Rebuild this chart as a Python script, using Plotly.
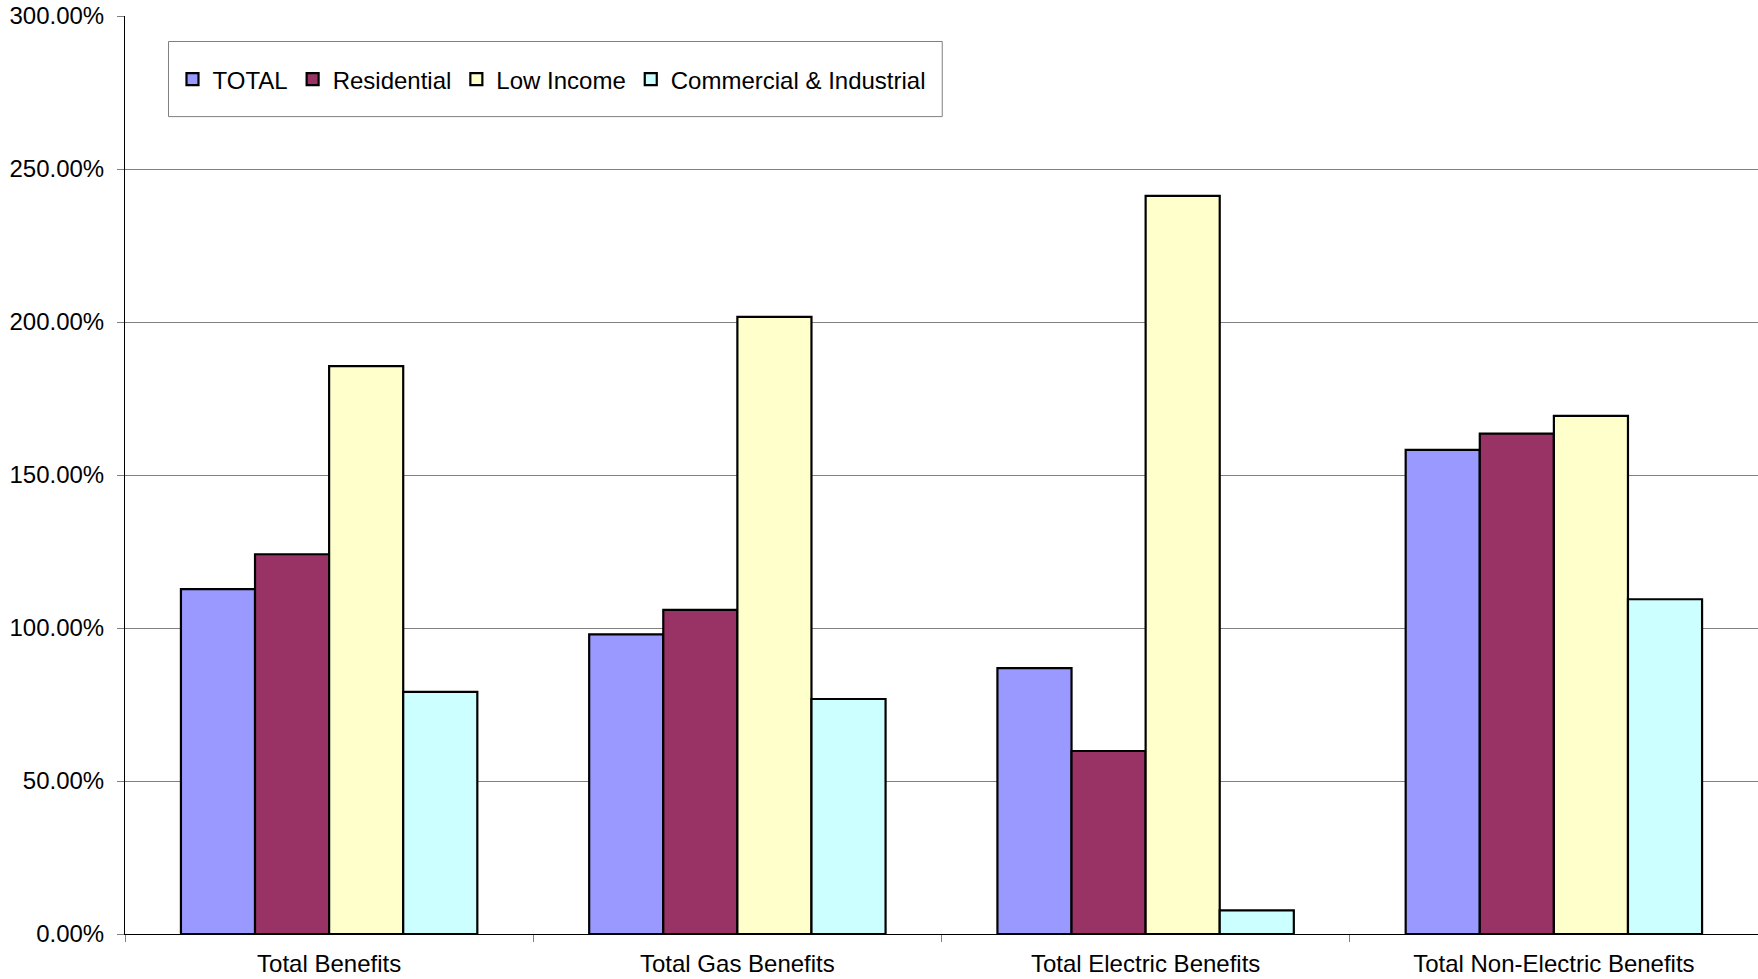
import plotly.graph_objects as go

# Benefit categories along the x axis
categories = ["Total Benefits", "Total Gas Benefits", "Total Electric Benefits", "Total Non-Electric Benefits"]

# Ratio values (percent) per customer segment
total = [112.7, 97.9, 86.9, 158.2]
residential = [124.1, 105.9, 59.8, 163.5]
low_income = [185.6, 201.7, 241.2, 169.3]
commercial_industrial = [79.1, 76.8, 7.7, 109.4]

series_names = ["TOTAL", "Residential", "Low Income", "Commercial & Industrial"]
series_values = [total, residential, low_income, commercial_industrial]
series_colors = ["#9999FF", "#993366", "#FFFFCC", "#CCFFFF"]

y_ticks = [0, 50, 100, 150, 200, 250, 300]
y_tick_labels = ["0.00%", "50.00%", "100.00%", "150.00%", "200.00%", "250.00%", "300.00%"]

FONT = "Arial, Liberation Sans, sans-serif"

fig = go.Figure()
for name, vals, color in zip(series_names, series_values, series_colors):
    fig.add_trace(go.Bar(
        x=categories, y=vals, name=name,
        marker=dict(color=color, line=dict(color="black", width=2.2)),
    ))

W, H = 1758, 979
ml, mr, mt, mb = 124.5, 0, 16, 45
pw = W - ml - mr
ph = H - mt - mb

def px_x(x):
    return (x - ml) / pw

def px_y(y):
    return (H - mb - y) / ph

fig.update_layout(
    width=W, height=H,
    margin=dict(l=ml, r=mr, t=mt, b=mb, pad=0),
    paper_bgcolor="white", plot_bgcolor="white",
    font=dict(family=FONT, size=24, color="black"),
    barmode="group", bargap=0.274, bargroupgap=0,
    showlegend=True,
    legend=dict(
        orientation="h",
        x=px_x(172), xanchor="left",
        y=px_y(79.6), yanchor="middle",
        bgcolor="rgba(0,0,0,0)", borderwidth=0,
        font=dict(family=FONT, size=24, color="black"),
        traceorder="normal",
    ),
    shapes=[dict(
        type="rect", xref="paper", yref="paper",
        x0=px_x(168), x1=px_x(942), y0=px_y(116.6), y1=px_y(41.5),
        line=dict(color="#808080", width=1), fillcolor="white", layer="below",
    )],
    xaxis=dict(
        type="category", range=[-0.5, 3.5],
        showline=True, linecolor="black", linewidth=1,
        ticks="outside", tickson="boundaries", ticklen=7, tickcolor="#808080",
        ticklabelstandoff=8,
        showgrid=False, zeroline=False,
        tickfont=dict(family=FONT, size=24, color="black"),
    ),
    yaxis=dict(
        range=[0, 300], tickmode="array", tickvals=y_ticks, ticktext=y_tick_labels,
        showline=True, linecolor="black", linewidth=1,
        ticks="outside", ticklen=7, tickcolor="#808080",
        ticklabelstandoff=8,
        showgrid=True, gridcolor="#808080", gridwidth=1,
        zeroline=False,
        tickfont=dict(family=FONT, size=24, color="black"),
    ),
)

fig.write_html("out.html")
